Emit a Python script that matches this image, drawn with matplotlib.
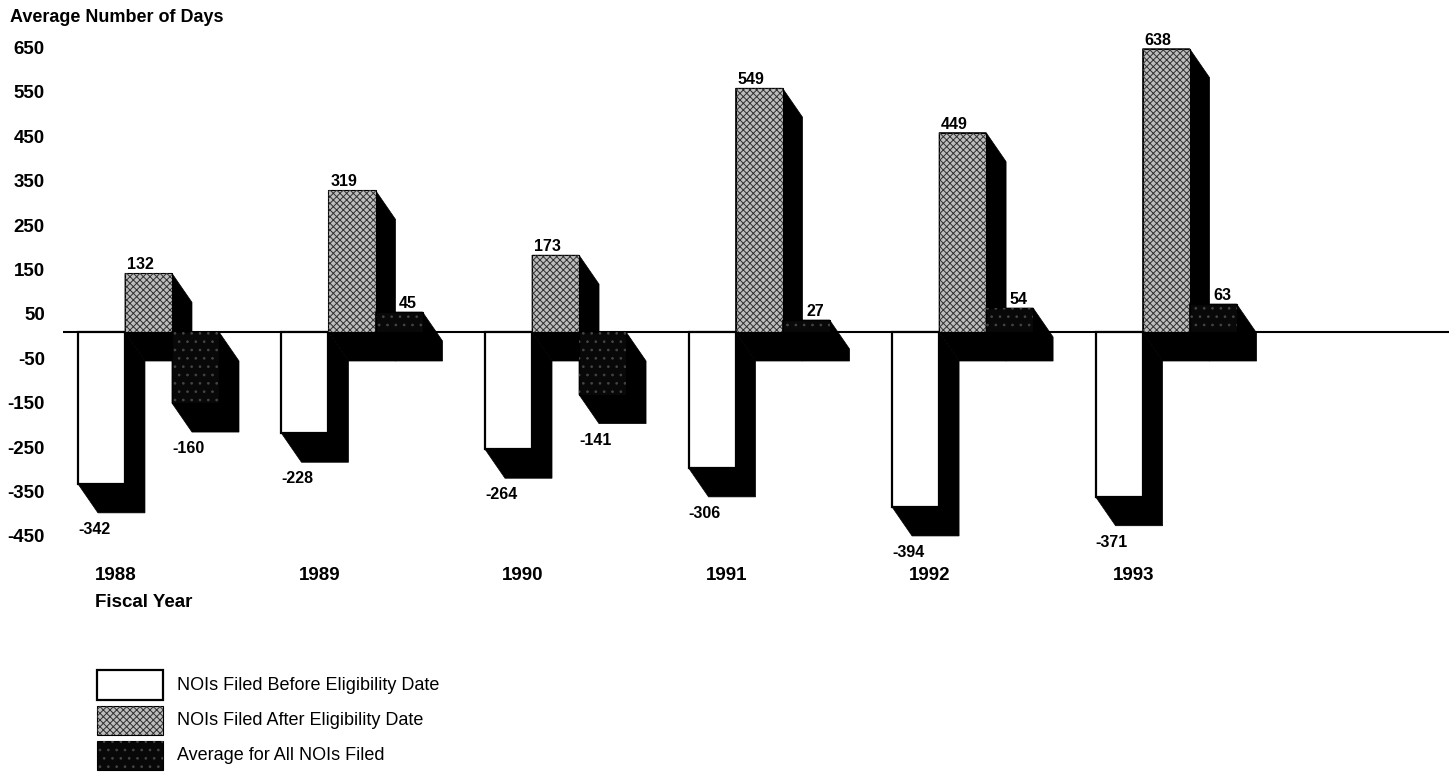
import numpy as np
import matplotlib.pyplot as plt
from matplotlib.patches import Polygon, Rectangle
from matplotlib.transforms import ScaledTranslation

plt.rcParams['font.family'] = ['Liberation Sans', 'DejaVu Sans']
plt.rcParams['hatch.linewidth'] = 0.7

years = ['1988', '1989', '1990', '1991', '1992', '1993']
before = [-342, -228, -264, -306, -394, -371]
after = [132, 319, 173, 549, 449, 638]
average = [-160, 45, -141, 27, 54, 63]
series_names = ['NOIs Filed Before Eligibility Date',
                'NOIs Filed After Eligibility Date',
                'Average for All NOIs Filed']
yticks = list(range(-450, 651, 100))

W, H = 1449, 776
fig = plt.figure(figsize=(W / 100, H / 100), dpi=100)
ax = fig.add_axes([63 / W, 213.1 / H, 1386 / W, 541.7 / H])
xlim = (-0.42, 6.39)
ylim = (-520, 700)
ax.set_xlim(*xlim)
ax.set_ylim(*ylim)

# depth of the 3d shadow, given in pixels, turned into data units
px_x = 1386 / (xlim[1] - xlim[0])
px_y = 541.7 / (ylim[1] - ylim[0])
dx, dy = 20 / px_x, 29 / px_y
bw = 0.231

styles = [
    dict(face='white', edge='black', lw=1.6, hatch=None, hc=None),
    dict(face='#bdbdbd', edge='black', lw=0.8, hatch='xxxxx', hc='#303030'),
    dict(face='#080808', edge='black', lw=0.8, hatch='..', hc='#454545'),
]

x = np.arange(len(years))
data = [before, after, average]

ax.axhline(0, color='black', lw=1.5, zorder=0.5)

for k, (vals, st) in enumerate(zip(data, styles)):
    xc = x + (k - 1) * bw
    z = 1 + 2 * k
    # black extruded shadow (right and down)
    for xi, v in zip(xc, vals):
        x0, x1 = xi - bw / 2, xi + bw / 2
        lo, hi = min(0, v), max(0, v)
        hexagon = [(x0, hi), (x1, hi), (x1 + dx, hi - dy), (x1 + dx, lo - dy),
                   (x0 + dx, lo - dy), (x0, lo)]
        ax.add_patch(Polygon(hexagon, closed=True, facecolor='black',
                             edgecolor='black', lw=0.5, zorder=z))
    ax.bar(xc, vals, width=bw, color=st['face'], edgecolor=st['edge'],
           linewidth=st['lw'], zorder=z + 0.5)
    if st['hatch']:
        ax.bar(xc, vals, width=bw, fill=False, hatch=st['hatch'],
               edgecolor=st['hc'], linewidth=0, zorder=z + 0.6)

    # value labels
    for xi, v in zip(xc, vals):
        x0 = xi - bw / 2
        if v < 0:
            ax.annotate(str(v), xy=(x0, v), xytext=(0, -29 - 9),
                        textcoords='offset pixels', ha='left', va='top',
                        fontsize=11.5, fontweight='bold', zorder=10)
        elif k == 2:
            ax.annotate(str(v), xy=(xi, v), xytext=(0, 4),
                        textcoords='offset pixels', ha='left', va='baseline',
                        fontsize=11.5, fontweight='bold', zorder=10)
        else:
            ax.annotate(str(v), xy=(x0, v), xytext=(2, 4),
                        textcoords='offset pixels', ha='left', va='baseline',
                        fontsize=11.5, fontweight='bold', zorder=10)

# axes cosmetics
for s in ax.spines.values():
    s.set_visible(False)
ax.set_xticks([])
ax.set_yticks(yticks)
ax.set_yticklabels([str(t) for t in yticks], fontsize=13.5, fontweight='bold')
ax.tick_params(axis='y', length=0, pad=13)
for lab in ax.get_yticklabels():
    lab.set_transform(lab.get_transform() + ScaledTranslation(0, -0.04, fig.dpi_scale_trans))

# year labels and axis titles
for xi, yr in zip(x, years):
    ax.annotate(yr, xy=(xi - 0.263, 0), xycoords=ax.get_xaxis_transform(),
                xytext=(0, -13), textcoords='offset pixels', ha='left',
                va='center', fontsize=13.5, fontweight='bold', annotation_clip=False)
ax.annotate('Fiscal Year', xy=(x[0] - 0.263, 0), xycoords=ax.get_xaxis_transform(),
            xytext=(0, -40), textcoords='offset pixels', ha='left', va='center',
            fontsize=13.5, fontweight='bold', annotation_clip=False)
fig.text(10 / W, 1 - 17 / H, 'Average Number of Days', fontsize=13,
         fontweight='bold', ha='left', va='center')

# legend, drawn by hand in figure pixels
box_tops = [670, 706, 741]
box_h = [30, 29, 29]
for st, name, top, bh in zip(styles, series_names, box_tops, box_h):
    r = Rectangle((97 / W, 1 - (top + bh) / H), 66 / W, bh / H,
                  transform=fig.transFigure, facecolor=st['face'],
                  edgecolor=st['edge'], linewidth=st['lw'])
    fig.patches.append(r)
    if st['hatch']:
        fig.patches.append(Rectangle((97 / W, 1 - (top + bh) / H), 66 / W, bh / H,
                                     transform=fig.transFigure, fill=False,
                                     hatch=st['hatch'], edgecolor=st['hc'],
                                     linewidth=0))
    fig.text(177 / W, 1 - (top + bh / 2) / H, name, fontsize=13,
             ha='left', va='center')

fig.savefig('out.png', dpi=100)
